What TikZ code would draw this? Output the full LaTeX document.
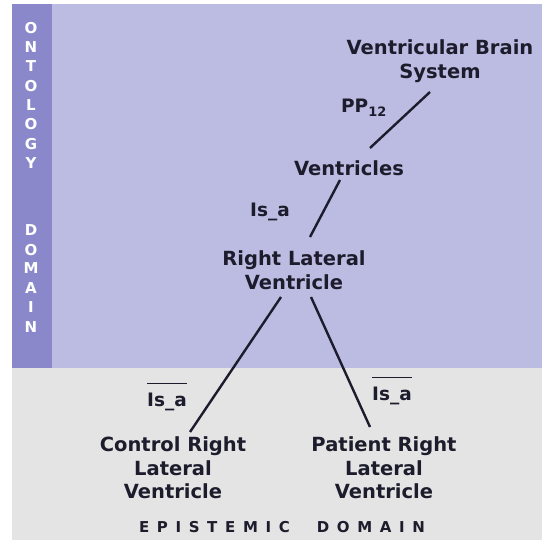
\documentclass[tikz,border=0pt]{standalone}
\usepackage{fontspec}
\setmainfont{DejaVu Sans}
\definecolor{strip}{HTML}{8A88CB}
\definecolor{onto}{HTML}{BCBCE2}
\definecolor{epis}{HTML}{E4E4E4}
\definecolor{ink}{HTML}{1C1C2C}
\usetikzlibrary{calc}
\tikzset{term/.style={text=ink, font=\bfseries\fontsize{19.5}{23.5}\selectfont, align=center, inner sep=0pt},
	rel/.style={text=ink, font=\bfseries\fontsize{18.5}{20}\selectfont, inner sep=0pt},
	link/.style={line width=2.4pt, ink}}
\newcommand{\barred}[1]{\vbox{\hrule height 1.2pt\kern 9pt\hbox{#1}}}

\begin{document}
\begin{tikzpicture}[x=1pt,y=-1pt]
\useasboundingbox (0,0) rectangle (542,540);
\fill[white] (0,0) rectangle (542,540);
\fill[onto] (52,4) rectangle (542,368);
\fill[strip] (12,4) rectangle (52,368);
\fill[epis] (12,368) rectangle (542,540);
% side band
\foreach \l/\y in {O/28,N/47,T/66,O/86,L/105,O/124,G/144,Y/163,D/230,O/250,M/268,A/288,I/307,N/327}
	\node[text=white,font=\bfseries\fontsize{15}{15}\selectfont,inner sep=0pt] at (31,\y) {\l};

\node[term] (vbs) at (440,61) {Ventricular Brain\\System};
\node[term] (ven) at (349,168) {Ventricles};
\node[term] (rlv) at (294,270) {Right Lateral\\Ventricle};
\node[term] (crlv) at (173,468) {Control Right\\Lateral\\Ventricle};
\node[term] (prlv) at (384,468) {Patient Right\\Lateral\\Ventricle};

\node[rel] (pp) at (364,108) {PP\textsubscript{12}};
\node[rel] (isa) at (270,212) {Is\_a};
\node[rel] (cisa) at (167,397) {\barred{Is\_a}};
\node[rel] (pisa) at (392,391) {\barred{Is\_a}};

\draw[link] ($(vbs)+(-10,31)$) -- ($(ven)+(21,-20)$);
\draw[link] ($(ven)+(-9,12)$) -- ($(rlv)+(16,-33)$);
\draw[link] ($(rlv)+(-13,27)$) -- ($(crlv)+(17,-36)$);
\draw[link] ($(rlv)+(17,27)$) -- ($(prlv)+(-14,-41)$);

\node[text=ink,font=\bfseries\fontsize{15}{15}\selectfont\addfontfeature{LetterSpace=51},inner sep=0pt] (epi) at (282,527) {EPISTEMIC\hspace{27pt}DOMAIN};
\end{tikzpicture}
\end{document}
